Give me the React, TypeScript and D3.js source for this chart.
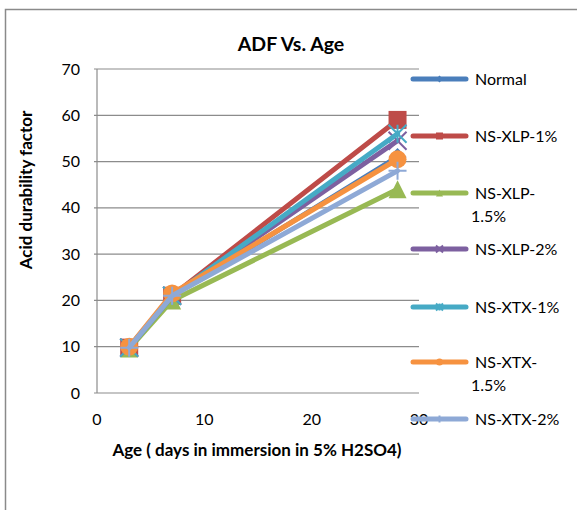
import React from "react";
import * as d3 from "d3";

const ages = [3, 7, 28];
const seriesNames = ["Normal", "NS-XLP-1%", "NS-XLP-1.5%", "NS-XLP-2%", "NS-XTX-1%", "NS-XTX-1.5%", "NS-XTX-2%"];
const normal = [9.8, 21, 51];
const xlp1 = [9.8, 21, 59];
const xlp15 = [9.6, 20, 44];
const xlp2 = [9.8, 21, 54.5];
const xtx1 = [9.8, 21, 56];
const xtx15 = [10, 21.5, 50.5];
const xtx2 = [9.8, 21, 48];
const xTicks = [0, 10, 20, 30];
const yTicks = [0, 10, 20, 30, 40, 50, 60, 70];
const legendLabels = [["Normal"], ["NS-XLP-1%"], ["NS-XLP-", "1.5%"], ["NS-XLP-2%"], ["NS-XTX-1%"], ["NS-XTX-", "1.5%"], ["NS-XTX-2%"]];

const colors = ["#4A7EBB", "#BE4B48", "#98B954", "#7D60A0", "#46AAC5", "#F69240", "#8EA9D6"];
const markers = ["diamond", "square", "triangle", "x", "star", "circle", "plus"];
const values = [normal, xlp1, xlp15, xlp2, xtx1, xtx15, xtx2];

const FONT = "Lato, 'Open Sans', sans-serif";

function Marker({ type, x, y, size, color }: { type: string; x: number; y: number; size: number; color: string }) {
  const h = size / 2;
  const t = `translate(${x},${y})`;
  if (type === "diamond") {
    return <path transform={t} d={`M0,${-h}L${h},0L0,${h}L${-h},0Z`} fill={color} />;
  }
  if (type === "square") {
    return <rect x={x - h} y={y - h} width={size} height={size} fill={color} />;
  }
  if (type === "triangle") {
    return <path transform={t} d={`M0,${-h}L${h},${h}L${-h},${h}Z`} fill={color} />;
  }
  if (type === "circle") {
    return <circle cx={x} cy={y} r={h} fill={color} />;
  }
  if (type === "x") {
    return <path transform={t} d={`M${-h},${-h}L${h},${h}M${h},${-h}L${-h},${h}`} stroke={color} strokeWidth={2} fill="none" />;
  }
  if (type === "star") {
    return (
      <path transform={t} d={`M${-h},${-h}L${h},${h}M${h},${-h}L${-h},${h}M0,${-h}L0,${h}`} stroke={color} strokeWidth={2} fill="none" />
    );
  }
  return <path transform={t} d={`M0,${-h}L0,${h}M${-h},0L${h},0`} stroke={color} strokeWidth={2} fill="none" />;
}

export default function App() {
  const W = 577;
  const H = 510;
  const x = d3.scaleLinear().domain([0, 30]).range([97, 419]);
  const y = d3.scaleLinear().domain([0, 70]).range([393, 69]);
  const line = d3
    .line<number>()
    .x((_, i) => x(ages[i]))
    .y((d) => y(d));

  const legendY = [79, 136, 193, 249, 307, 362, 419];

  return (
    <svg width={W} height={H} style={{ position: "absolute", left: 0, top: 0, background: "#fff" }} fontFamily={FONT}>
      <rect x={0} y={0} width={W} height={H} fill="#fff" />
      <rect x={5.5} y={9.5} width={W + 10} height={H + 10} fill="none" stroke="#8a8a8a" strokeWidth={1.5} />
      {yTicks.map((t) => (
        <line key={t} x1={x(0) - 3} x2={x(30)} y1={y(t)} y2={y(t)} stroke="#8c8c8c" strokeWidth={1.2} />
      ))}
      <line x1={x(0)} x2={x(0)} y1={y(0)} y2={y(70)} stroke="#8c8c8c" strokeWidth={1.2} />
      {yTicks.map((t) => (
        <text key={t} x={80} y={y(t)} dy="0.35em" textAnchor="end" fontSize={16} fill="#000">
          {t}
        </text>
      ))}
      {xTicks.map((t) => (
        <text key={t} x={x(t)} y={419} dy="0.35em" textAnchor="middle" fontSize={16} fill="#000">
          {t}
        </text>
      ))}
      {values.map((v, i) => (
        <g key={seriesNames[i]}>
          <path d={line(v) || ""} fill="none" stroke={colors[i]} strokeWidth={5} strokeLinejoin="round" strokeLinecap="round" />
          {v.map((d, j) => (
            <Marker key={j} type={markers[i]} x={x(ages[j])} y={y(d)} size={18} color={colors[i]} />
          ))}
        </g>
      ))}
      {seriesNames.map((n, i) => (
        <g key={n}>
          <line x1={413} x2={466} y1={legendY[i]} y2={legendY[i]} stroke={colors[i]} strokeWidth={5} strokeLinecap="round" />
          <Marker type={markers[i]} x={439.5} y={legendY[i]} size={7} color={colors[i]} />
          {legendLabels[i].map((s, k) => (
            <text key={k} x={k === 0 ? 475 : 471} y={legendY[i] + k * 23} dy="0.35em" fontSize={16} fill="#000">
              {s}
            </text>
          ))}
        </g>
      ))}
      <text x={291} y={44} dy="0.35em" textAnchor="middle" fontSize={19.5} fontWeight="bold" fill="#000">
        ADF Vs. Age
      </text>
      <text x={257} y={450} dy="0.35em" textAnchor="middle" fontSize={17} fontWeight="bold" fill="#000">
        Age ( days in immersion in 5% H2SO4)
      </text>
      <text transform="translate(26,190) rotate(-90)" dy="0.35em" textAnchor="middle" fontSize={17} fontWeight="bold" fill="#000">
        Acid durability factor
      </text>
    </svg>
  );
}
